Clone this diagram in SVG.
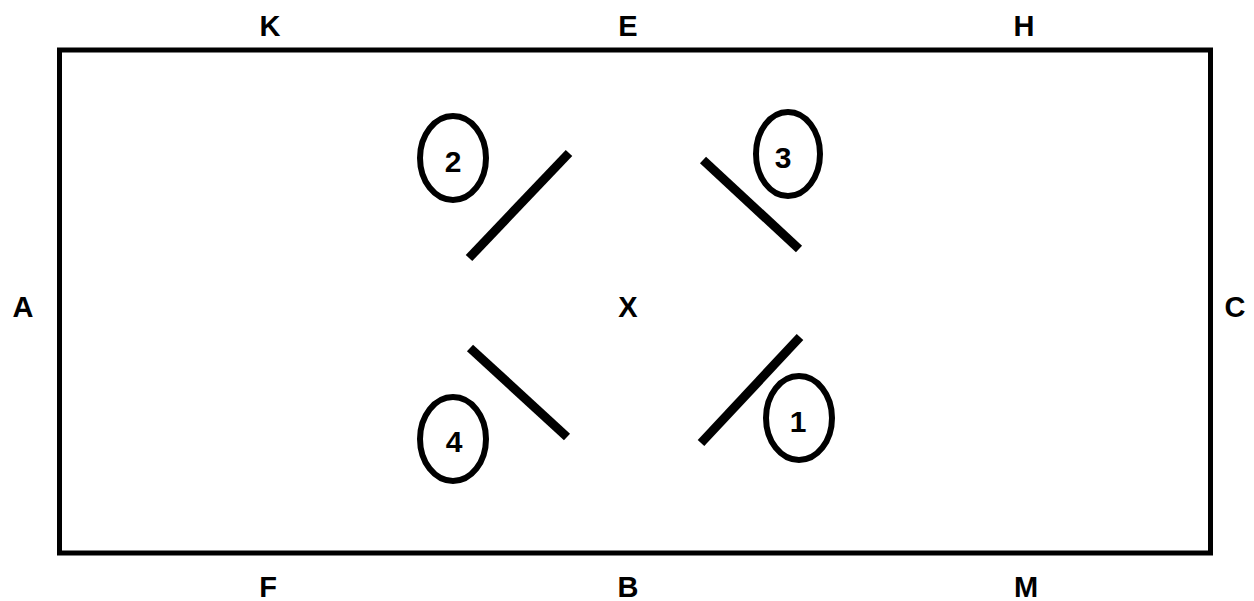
<svg xmlns="http://www.w3.org/2000/svg" width="1254" height="601" viewBox="0 0 1254 601">
<style>
.lbl{font-family:"Liberation Sans",Arial,sans-serif;font-weight:bold;font-size:29px;fill:#000;text-anchor:middle}
.num{font-family:"Liberation Sans",Arial,sans-serif;font-weight:bold;font-size:30px;fill:#000;text-anchor:middle}
.ell{fill:none;stroke:#000;stroke-width:6}
.bar{stroke:#000;stroke-width:9;stroke-linecap:butt}
</style>
<rect id="arena" x="59.5" y="50" width="1151" height="503" fill="#fff" stroke="#000" stroke-width="5"/>
<g id="letters">
<text class="lbl" x="270" y="36">K</text>
<text class="lbl" x="628" y="36">E</text>
<text class="lbl" x="1024" y="36">H</text>
<text class="lbl" x="23" y="317">A</text>
<text class="lbl" x="628" y="317">X</text>
<text class="lbl" x="1235" y="317">C</text>
<text class="lbl" x="268" y="597">F</text>
<text class="lbl" x="628" y="597">B</text>
<text class="lbl" x="1026" y="597">M</text>
</g>
<g id="connectors">
<line class="bar" x1="469" y1="258" x2="569" y2="153"/>
<line class="bar" x1="703" y1="160" x2="799" y2="249"/>
<line class="bar" x1="470" y1="348" x2="567" y2="437"/>
<line class="bar" x1="800" y1="337" x2="701" y2="443"/>
</g>
<g id="marker1"><ellipse class="ell" cx="799" cy="418" rx="33" ry="42"/><text class="num" x="798" y="432">1</text></g>
<g id="marker2"><ellipse class="ell" cx="453" cy="158" rx="33" ry="42"/><text class="num" x="453" y="172">2</text></g>
<g id="marker3"><ellipse class="ell" cx="788" cy="154" rx="32" ry="42"/><text class="num" x="783" y="168">3</text></g>
<g id="marker4"><ellipse class="ell" cx="453" cy="439" rx="33" ry="42"/><text class="num" x="454" y="452">4</text></g>
</svg>
